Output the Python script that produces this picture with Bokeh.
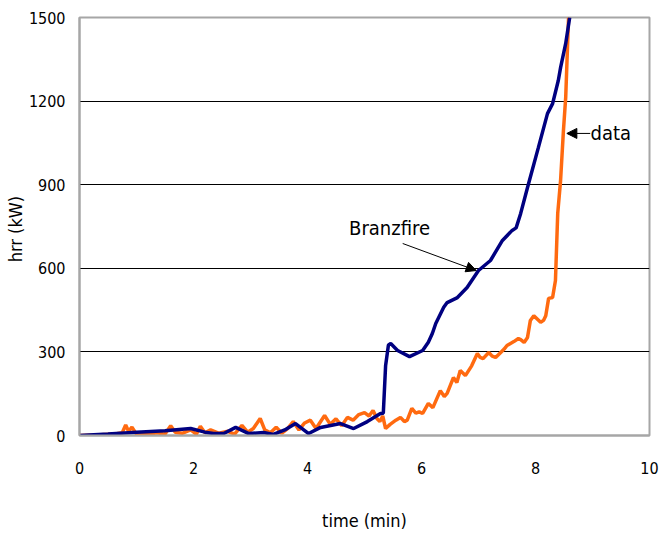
from bokeh.plotting import figure
from bokeh.models import Range1d, FixedTicker, Label, Arrow, NormalHead
from bokeh.embed import file_html
from bokeh.resources import INLINE

# --- data ---
branz_t = [0, 0.5, 1.0, 1.5, 1.95, 2.2, 2.35, 2.53, 2.74, 2.97, 3.23, 3.40, 3.60, 3.79, 4.02, 4.23,
           4.58, 4.81, 5.05, 5.28, 5.33, 5.37, 5.42, 5.46, 5.58, 5.79, 6.02, 6.12, 6.19, 6.25, 6.39,
           6.45, 6.63, 6.80, 7.00, 7.21, 7.42, 7.59, 7.66, 7.74, 7.86, 8.05, 8.21, 8.30, 8.40, 8.44,
           8.53, 8.60]
branz_hrr = [0, 5, 12, 17, 25, 12, 7, 7, 29, 7, 11, 4, 20, 43, 7, 29,
             43, 25, 50, 79, 80, 250, 325, 330, 305, 283, 305, 335, 366, 402, 460,
             477, 495, 531, 592, 628, 700, 736, 745, 797, 890, 1033, 1155, 1191, 1274, 1320,
             1407, 1500]

data_t = [0, 0.3, 0.6, 0.75, 0.81, 0.86, 0.92, 1.0, 1.1, 1.2, 1.35, 1.5, 1.6, 1.68, 1.8, 1.95,
          2.05, 2.12, 2.2, 2.3, 2.45, 2.6, 2.72, 2.85, 2.95, 3.05, 3.17, 3.25, 3.35, 3.45, 3.55,
          3.65, 3.75, 3.85, 3.95, 4.05, 4.15, 4.3, 4.4, 4.5, 4.6, 4.7, 4.8, 4.9, 5.0, 5.08, 5.15,
          5.22, 5.27, 5.32, 5.37, 5.45, 5.55, 5.63, 5.7, 5.75, 5.83, 5.9, 5.96, 6.02, 6.12, 6.2,
          6.33, 6.4, 6.45, 6.56, 6.62, 6.68, 6.77, 6.88, 6.98, 7.03, 7.08, 7.18, 7.24, 7.3, 7.39,
          7.45, 7.5, 7.62, 7.7, 7.74, 7.8, 7.86, 7.91, 7.97, 8.09, 8.14, 8.18, 8.23, 8.3, 8.35,
          8.39, 8.44, 8.49, 8.53, 8.58]
data_hrr = [0, 2, 5, 10, 38, 15, 30, 5, 8, 3, 10, 5, 35, 12, 8, 20,
            5, 33, 10, 20, 8, 15, 5, 36, 12, 25, 61, 20, 10, 30, 8,
            25, 50, 20, 45, 55, 25, 72, 40, 60, 35, 65, 55, 75, 82, 70, 90,
            60, 50, 70, 25, 40, 55, 65, 50, 55, 97, 80, 85, 79, 115, 100,
            161, 140, 151, 208, 190, 233, 215, 250, 294, 280, 276, 298, 285, 280, 298,
            310, 323, 337, 348, 344, 334, 352, 413, 430, 406, 413, 430, 492, 495, 556,
            797, 915, 1094, 1213, 1500]

x_ticks = [0, 2, 4, 6, 8, 10]
y_ticks = [0, 300, 600, 900, 1200, 1500]
grid_lines = [300, 600, 900, 1200]

FONT = "DejaVu Sans Condensed"
GRAY = "#a6a6a6"

p = figure(width=660, height=546, output_backend="svg", toolbar_location=None,
           x_range=Range1d(0, 10), y_range=Range1d(0, 1500),
           min_border_left=79, min_border_right=11, min_border_top=17, min_border_bottom=111)
p.background_fill_color = "white"
p.border_fill_color = "white"
p.outline_line_color = GRAY
p.outline_line_width = 2

p.xgrid.grid_line_color = None
p.ygrid.ticker = FixedTicker(ticks=grid_lines)
p.ygrid.grid_line_color = "black"
p.ygrid.grid_line_width = 1

p.xaxis.ticker = FixedTicker(ticks=x_ticks)
p.yaxis.ticker = FixedTicker(ticks=y_ticks)
for ax in (p.xaxis[0], p.yaxis[0]):
    ax.axis_line_color = GRAY
    ax.axis_line_width = 2
    ax.major_tick_line_color = None
    ax.minor_tick_line_color = None
    ax.major_label_text_font = FONT
    ax.major_label_text_font_size = "16px"
    ax.major_label_text_color = "black"
    ax.axis_label_text_font = FONT
    ax.axis_label_text_font_size = "18px"
    ax.axis_label_text_font_style = "normal"
    ax.axis_label_text_color = "black"

p.xaxis.axis_label = "time (min)"
p.yaxis.axis_label = "hrr  (kW)"
p.xaxis.major_label_standoff = 20
p.yaxis.major_label_standoff = 8
p.xaxis.axis_label_standoff = 33
p.yaxis.axis_label_standoff = 0

p.line(data_t, data_hrr, line_color="#FF6A10", line_width=3.5)
p.line(branz_t, branz_hrr, line_color="#000080", line_width=3.5)

p.add_layout(Label(x=5.44, y=743, text="Branzfire", text_font=FONT, text_font_size="20px",
                   text_align="center", text_baseline="middle", text_color="black"))
p.add_layout(Label(x=9.32, y=1087, text="data", text_font=FONT, text_font_size="20px",
                   text_align="center", text_baseline="middle", text_color="black"))

p.add_layout(Arrow(end=NormalHead(size=10, fill_color="black", line_color="black"),
                   x_start=5.67, y_start=689, x_end=6.96, y_end=592,
                   line_color="black", line_width=1))
p.add_layout(Arrow(end=NormalHead(size=10, fill_color="black", line_color="black"),
                   x_start=8.96, y_start=1084, x_end=8.55, y_end=1084,
                   line_color="black", line_width=1))

open("out.html", "w").write(file_html(p, INLINE))
